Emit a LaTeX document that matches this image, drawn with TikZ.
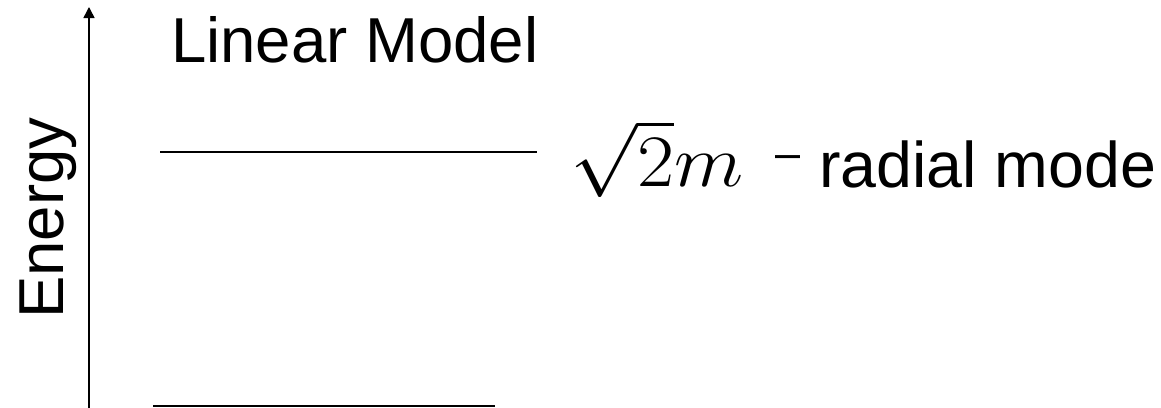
\RequirePackage{fix-cm}
\documentclass[tikz,border=0pt]{standalone}
\usepackage{fontspec}
\setmainfont{Liberation Sans}
\usetikzlibrary{arrows.meta}
\begin{document}
\begin{tikzpicture}[
    x=1pt, y=-1pt,
    levelLine/.style={line width=2.2pt},
    energyAxis/.style={line width=1.5pt, -{Triangle[length=11pt,width=11pt]}},
    bigText/.style={font=\fontsize{63.5}{75}\selectfont, inner sep=0pt, anchor=base west},
    modeText/.style={font=\fontsize{64.5}{75}\selectfont, inner sep=0pt, anchor=base west},
    mathText/.style={font=\fontsize{74}{88}\selectfont, inner sep=0pt, anchor=base west},
    dashText/.style={font=\fontsize{45}{54}\selectfont, inner sep=0pt, anchor=base west}
]
    \useasboundingbox (0,0) rectangle (1161,407);

    % energy axis
    \coordinate (axisBot) at (89,408);
    \coordinate (axisTop) at (89,7);
    \draw[energyAxis] (axisBot) -- (axisTop);
    \node[bigText, rotate=90] (energyLbl) at (63,319) {Energy};

    % title
    \node[bigText] (title) at (171,62) {Linear Model};

    % upper level
    \coordinate (upperL) at (160,152);
    \coordinate (upperR) at (537,152);
    \draw[levelLine] (upperL) -- (upperR);
    \node[mathText] (massLbl) at (570,186) {\scalebox{1.09}[1]{$\sqrt{2}m$}};
    \node[dashText] (dashLbl) at (775,168) {–};
    \node[modeText] (modeLbl) at (819,187) {radial mode};

    % lower level
    \coordinate (lowerL) at (153,406);
    \coordinate (lowerR) at (495,406);
    \draw[levelLine] (lowerL) -- (lowerR);
\end{tikzpicture}
\end{document}
